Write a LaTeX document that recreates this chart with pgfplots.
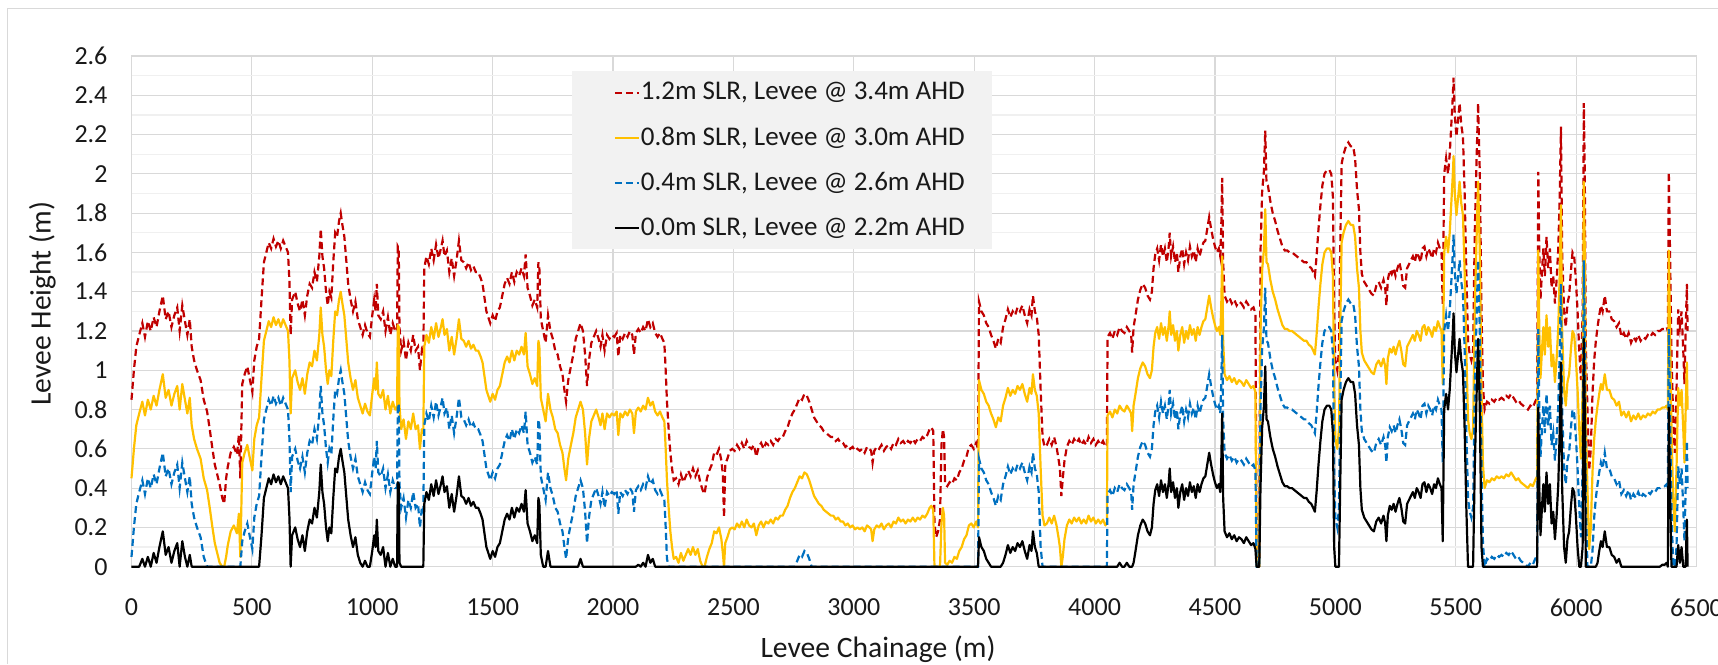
\documentclass[border=0pt]{standalone}
\usepackage{fontspec}
\setmainfont{Carlito}
\usepackage{pgfplots}
\usepackage{pgfplotstable}
\pgfplotsset{compat=1.18}

\definecolor{cRed}{HTML}{C00000}
\definecolor{cYel}{HTML}{FFC000}
\definecolor{cBlu}{HTML}{0070C0}
\definecolor{cGrid}{HTML}{D9D9D9}
\definecolor{cMinor}{HTML}{F0F0F0}
\definecolor{cLeg}{HTML}{F2F2F2}

% x = chainage (m); r, y, b, k = levee height for 1.2, 0.8, 0.4, 0.0 m SLR
\pgfplotstableread{
x r y b k
0 0.85 0.45 0.05 0
10 1.00 0.60 0.20 0
20 1.12 0.72 0.32 0
32 1.18 0.78 0.38 0
45 1.24 0.84 0.44 0.04
56 1.17 0.77 0.37 0
68 1.25 0.85 0.45 0.05
80 1.20 0.80 0.40 0
92 1.27 0.87 0.47 0.07
104 1.22 0.82 0.42 0.02
116 1.30 0.90 0.50 0.10
130 1.38 0.98 0.58 0.18
142 1.26 0.86 0.46 0.06
154 1.30 0.90 0.50 0.10
166 1.22 0.82 0.42 0.02
178 1.28 0.88 0.48 0.08
190 1.32 0.92 0.52 0.12
200 1.20 0.80 0.40 0
211 1.33 0.93 0.53 0.13
222 1.25 0.85 0.45 0.05
232 1.18 0.78 0.38 0
242 1.26 0.86 0.46 0.06
250 1.12 0.72 0.32 0
260 1.05 0.65 0.25 0
272 1.00 0.60 0.20 0
287 0.95 0.55 0.15 0
300 0.85 0.45 0.05 0
314 0.79 0.39 0 0
325 0.70 0.30 0 0
335 0.61 0.21 0 0
346 0.52 0.12 0 0
356 0.47 0.07 0 0
366 0.42 0.02 0 0
377 0.35 0 0 0
385 0.32 0 0 0
393 0.45 0.05 0 0
400 0.51 0.11 0 0
412 0.58 0.18 0 0
425 0.61 0.21 0 0
438 0.57 0.17 0 0
446 0.67 0.27 0 0
452 0.45 0.05 0 0
460 0.93 0.53 0.13 0
470 0.98 0.58 0.18 0
481 1.02 0.62 0.22 0
492 0.95 0.55 0.15 0
502 0.89 0.49 0.09 0
510 1.05 0.65 0.25 0
520 1.12 0.72 0.32 0
530 1.16 0.76 0.36 0
540 1.36 0.96 0.56 0.16
550 1.55 1.15 0.75 0.35
560 1.60 1.20 0.80 0.40
570 1.65 1.25 0.85 0.45
580 1.62 1.22 0.82 0.42
590 1.67 1.27 0.87 0.47
600 1.63 1.23 0.83 0.43
610 1.66 1.26 0.86 0.46
620 1.62 1.22 0.82 0.42
630 1.66 1.26 0.86 0.46
640 1.63 1.23 0.83 0.43
650 1.60 1.20 0.80 0.40
656 1.45 1.05 0.65 0.25
661 1.18 0.78 0.38 0
667 1.36 0.96 0.56 0.16
680 1.40 1.00 0.60 0.20
690 1.34 0.94 0.54 0.14
700 1.30 0.90 0.50 0.10
710 1.36 0.96 0.56 0.16
720 1.28 0.88 0.48 0.08
730 1.38 0.98 0.58 0.18
740 1.44 1.04 0.64 0.24
750 1.42 1.02 0.62 0.22
760 1.50 1.10 0.70 0.30
770 1.45 1.05 0.65 0.25
780 1.58 1.18 0.78 0.38
786 1.72 1.32 0.92 0.52
793 1.58 1.18 0.78 0.38
800 1.52 1.12 0.72 0.32
808 1.40 1.00 0.60 0.20
815 1.33 0.93 0.53 0.13
822 1.40 1.00 0.60 0.20
830 1.37 0.97 0.57 0.17
838 1.55 1.15 0.75 0.35
846 1.70 1.30 0.90 0.50
854 1.68 1.28 0.88 0.48
862 1.76 1.36 0.96 0.56
869 1.80 1.40 1.00 0.60
876 1.74 1.34 0.94 0.54
884 1.68 1.28 0.88 0.48
892 1.56 1.16 0.76 0.36
900 1.44 1.04 0.64 0.24
910 1.36 0.96 0.56 0.16
920 1.30 0.90 0.50 0.10
930 1.35 0.95 0.55 0.15
940 1.26 0.86 0.46 0.06
950 1.22 0.82 0.42 0.02
960 1.18 0.78 0.38 0
970 1.23 0.83 0.43 0.03
980 1.19 0.79 0.39 0
990 1.17 0.77 0.37 0
1000 1.28 0.88 0.48 0.08
1008 1.36 0.96 0.56 0.16
1014 1.30 0.90 0.50 0.10
1019 1.44 1.04 0.64 0.24
1025 1.28 0.88 0.48 0.08
1035 1.26 0.86 0.46 0.06
1045 1.30 0.90 0.50 0.10
1055 1.20 0.80 0.40 0
1065 1.27 0.87 0.47 0.07
1075 1.18 0.78 0.38 0
1085 1.24 0.84 0.44 0.04
1095 1.20 0.80 0.40 0
1103 1.20 0.80 0.40 0
1106 1.63 1.23 0.83 0.43
1110 1.62 1.22 0.82 0.42
1113 1.22 0.82 0.42 0.02
1120 1.10 0.70 0.30 0
1130 1.15 0.75 0.35 0
1140 1.05 0.65 0.25 0
1150 1.14 0.74 0.34 0
1160 1.10 0.70 0.30 0
1170 1.18 0.78 0.38 0
1180 1.10 0.70 0.30 0
1190 1.12 0.72 0.32 0
1198 1.00 0.60 0.20 0
1206 1.10 0.70 0.30 0
1212 1.08 0.68 0.28 0
1216 1.52 1.12 0.72 0.32
1225 1.58 1.18 0.78 0.38
1235 1.54 1.14 0.74 0.34
1245 1.62 1.22 0.82 0.42
1255 1.56 1.16 0.76 0.36
1265 1.64 1.24 0.84 0.44
1275 1.57 1.17 0.77 0.37
1285 1.62 1.22 0.82 0.42
1292 1.66 1.26 0.86 0.46
1300 1.58 1.18 0.78 0.38
1310 1.61 1.21 0.81 0.41
1320 1.50 1.10 0.70 0.30
1330 1.57 1.17 0.77 0.37
1340 1.48 1.08 0.68 0.28
1350 1.56 1.16 0.76 0.36
1360 1.66 1.26 0.86 0.46
1370 1.56 1.16 0.76 0.36
1380 1.55 1.15 0.75 0.35
1390 1.52 1.12 0.72 0.32
1400 1.55 1.15 0.75 0.35
1410 1.51 1.11 0.71 0.31
1420 1.53 1.13 0.73 0.33
1430 1.50 1.10 0.70 0.30
1440 1.50 1.10 0.70 0.30
1450 1.47 1.07 0.67 0.27
1458 1.44 1.04 0.64 0.24
1466 1.37 0.97 0.57 0.17
1474 1.30 0.90 0.50 0.10
1482 1.27 0.87 0.47 0.07
1490 1.24 0.84 0.44 0.04
1500 1.28 0.88 0.48 0.08
1510 1.25 0.85 0.45 0.05
1520 1.30 0.90 0.50 0.10
1530 1.32 0.92 0.52 0.12
1540 1.38 0.98 0.58 0.18
1550 1.44 1.04 0.64 0.24
1560 1.47 1.07 0.67 0.27
1570 1.44 1.04 0.64 0.24
1580 1.50 1.10 0.70 0.30
1590 1.45 1.05 0.65 0.25
1600 1.50 1.10 0.70 0.30
1610 1.48 1.08 0.68 0.28
1620 1.52 1.12 0.72 0.32
1630 1.48 1.08 0.68 0.28
1637 1.59 1.19 0.79 0.39
1645 1.42 1.02 0.62 0.22
1655 1.38 0.98 0.58 0.18
1665 1.33 0.93 0.53 0.13
1675 1.36 0.96 0.56 0.16
1685 1.32 0.92 0.52 0.12
1690 1.55 1.15 0.75 0.35
1694 1.52 1.12 0.72 0.32
1700 1.26 0.86 0.46 0.06
1710 1.20 0.80 0.40 0
1720 1.14 0.74 0.34 0
1730 1.28 0.88 0.48 0.08
1740 1.20 0.80 0.40 0
1750 1.16 0.76 0.36 0
1760 1.10 0.70 0.30 0
1770 1.08 0.68 0.28 0
1780 1.02 0.62 0.22 0
1790 0.98 0.58 0.18 0
1798 0.90 0.50 0.10 0
1805 0.84 0.44 0.04 0
1814 0.95 0.55 0.15 0
1825 1.02 0.62 0.22 0
1835 1.08 0.68 0.28 0
1845 1.16 0.76 0.36 0
1855 1.20 0.80 0.40 0
1865 1.24 0.84 0.44 0.04
1875 1.20 0.80 0.40 0
1884 1.08 0.68 0.28 0
1892 0.92 0.52 0.12 0
1900 1.05 0.65 0.25 0
1910 1.14 0.74 0.34 0
1920 1.17 0.77 0.37 0
1930 1.20 0.80 0.40 0
1940 1.16 0.76 0.36 0
1948 1.12 0.72 0.32 0
1956 1.18 0.78 0.38 0
1965 1.10 0.70 0.30 0
1975 1.18 0.78 0.38 0
1985 1.16 0.76 0.36 0
1995 1.18 0.78 0.38 0
2005 1.17 0.77 0.37 0
2015 1.19 0.79 0.39 0
2022 1.07 0.67 0.27 0
2030 1.18 0.78 0.38 0
2040 1.16 0.76 0.36 0
2050 1.19 0.79 0.39 0
2060 1.17 0.77 0.37 0
2070 1.20 0.80 0.40 0
2080 1.18 0.78 0.38 0
2087 1.08 0.68 0.28 0
2095 1.19 0.79 0.39 0
2105 1.21 0.81 0.41 0.01
2115 1.19 0.79 0.39 0
2125 1.22 0.82 0.42 0.02
2135 1.20 0.80 0.40 0
2145 1.26 0.86 0.46 0.06
2155 1.22 0.82 0.42 0.02
2165 1.24 0.84 0.44 0.04
2175 1.19 0.79 0.39 0
2185 1.17 0.77 0.37 0
2195 1.19 0.79 0.39 0
2205 1.16 0.76 0.36 0
2213 1.14 0.74 0.34 0
2218 1.02 0.62 0.22 0
2224 0.84 0.44 0.04 0
2231 0.70 0.30 0 0
2238 0.58 0.18 0 0
2245 0.50 0.10 0 0
2252 0.44 0.04 0 0
2262 0.45 0.05 0 0
2272 0.42 0.02 0 0
2282 0.47 0.07 0 0
2292 0.43 0.03 0 0
2302 0.46 0.06 0 0
2312 0.49 0.09 0 0
2322 0.46 0.06 0 0
2332 0.50 0.10 0 0
2342 0.46 0.06 0 0
2352 0.49 0.09 0 0
2362 0.43 0.03 0 0
2372 0.39 0 0 0
2380 0.37 0 0 0
2390 0.45 0.05 0 0
2400 0.49 0.09 0 0
2410 0.52 0.12 0 0
2420 0.58 0.18 0 0
2430 0.57 0.17 0 0
2440 0.60 0.20 0 0
2450 0.54 0.14 0 0
2456 0.47 0.07 0 0
2461 0.25 0 0 0
2466 0.52 0.12 0 0
2475 0.55 0.15 0 0
2485 0.59 0.19 0 0
2495 0.60 0.20 0 0
2505 0.59 0.19 0 0
2515 0.62 0.22 0 0
2525 0.60 0.20 0 0
2535 0.63 0.23 0 0
2545 0.60 0.20 0 0
2555 0.64 0.24 0 0
2565 0.61 0.21 0 0
2575 0.60 0.20 0 0
2585 0.62 0.22 0 0
2595 0.56 0.16 0 0
2605 0.61 0.21 0 0
2615 0.63 0.23 0 0
2625 0.60 0.20 0 0
2635 0.63 0.23 0 0
2645 0.62 0.22 0 0
2655 0.64 0.24 0 0
2665 0.62 0.22 0 0
2675 0.65 0.25 0 0
2685 0.64 0.24 0 0
2695 0.66 0.26 0 0
2705 0.66 0.26 0 0
2715 0.69 0.29 0 0
2725 0.71 0.31 0 0
2735 0.75 0.35 0 0
2745 0.78 0.38 0 0
2755 0.80 0.40 0 0
2765 0.83 0.43 0.03 0
2775 0.86 0.46 0.06 0
2785 0.85 0.45 0.05 0
2795 0.88 0.48 0.08 0
2805 0.87 0.47 0.07 0
2815 0.84 0.44 0.04 0
2825 0.80 0.40 0 0
2835 0.76 0.36 0 0
2845 0.74 0.34 0 0
2855 0.72 0.32 0 0
2865 0.71 0.31 0 0
2875 0.69 0.29 0 0
2885 0.68 0.28 0 0
2895 0.67 0.27 0 0
2905 0.66 0.26 0 0
2915 0.66 0.26 0 0
2925 0.64 0.24 0 0
2935 0.65 0.25 0 0
2945 0.63 0.23 0 0
2955 0.63 0.23 0 0
2965 0.61 0.21 0 0
2975 0.62 0.22 0 0
2985 0.60 0.20 0 0
2995 0.61 0.21 0 0
3005 0.59 0.19 0 0
3015 0.60 0.20 0 0
3025 0.59 0.19 0 0
3035 0.60 0.20 0 0
3045 0.58 0.18 0 0
3055 0.61 0.21 0 0
3065 0.60 0.20 0 0
3072 0.59 0.19 0 0
3078 0.53 0.13 0 0
3085 0.59 0.19 0 0
3095 0.61 0.21 0 0
3105 0.60 0.20 0 0
3115 0.62 0.22 0 0
3125 0.59 0.19 0 0
3135 0.61 0.21 0 0
3145 0.62 0.22 0 0
3155 0.60 0.20 0 0
3165 0.63 0.23 0 0
3175 0.62 0.22 0 0
3185 0.65 0.25 0 0
3195 0.63 0.23 0 0
3205 0.64 0.24 0 0
3215 0.62 0.22 0 0
3225 0.64 0.24 0 0
3235 0.63 0.23 0 0
3245 0.65 0.25 0 0
3255 0.63 0.23 0 0
3265 0.65 0.25 0 0
3275 0.64 0.24 0 0
3285 0.66 0.26 0 0
3295 0.65 0.25 0 0
3305 0.67 0.27 0 0
3315 0.70 0.30 0 0
3322 0.71 0.31 0 0
3330 0.69 0.29 0 0
3335 0.22 0 0 0
3342 0.15 0 0 0
3350 0.18 0 0 0
3358 0.24 0 0 0
3364 0.62 0.22 0 0
3370 0.70 0.30 0 0
3375 0.66 0.26 0 0
3379 0.42 0.02 0 0
3388 0.41 0.01 0 0
3398 0.43 0.03 0 0
3408 0.42 0.02 0 0
3418 0.45 0.05 0 0
3428 0.44 0.04 0 0
3438 0.48 0.08 0 0
3448 0.50 0.10 0 0
3458 0.54 0.14 0 0
3468 0.56 0.16 0 0
3478 0.61 0.21 0 0
3488 0.62 0.22 0 0
3498 0.60 0.20 0 0
3508 0.63 0.23 0 0
3516 0.60 0.20 0 0
3520 1.35 0.95 0.55 0.15
3530 1.30 0.90 0.50 0.10
3540 1.28 0.88 0.48 0.08
3550 1.24 0.84 0.44 0.04
3560 1.22 0.82 0.42 0.02
3570 1.18 0.78 0.38 0
3580 1.15 0.75 0.35 0
3590 1.11 0.71 0.31 0
3600 1.16 0.76 0.36 0
3610 1.14 0.74 0.34 0
3620 1.22 0.82 0.42 0.02
3630 1.26 0.86 0.46 0.06
3640 1.31 0.91 0.51 0.11
3650 1.27 0.87 0.47 0.07
3660 1.30 0.90 0.50 0.10
3670 1.28 0.88 0.48 0.08
3680 1.32 0.92 0.52 0.12
3690 1.30 0.90 0.50 0.10
3700 1.33 0.93 0.53 0.13
3710 1.28 0.88 0.48 0.08
3720 1.24 0.84 0.44 0.04
3730 1.31 0.91 0.51 0.11
3738 1.28 0.88 0.48 0.08
3744 1.38 0.98 0.58 0.18
3752 1.30 0.90 0.50 0.10
3760 1.27 0.87 0.47 0.07
3768 1.18 0.78 0.38 0
3776 0.90 0.50 0.10 0
3784 0.66 0.26 0 0
3792 0.61 0.21 0 0
3802 0.62 0.22 0 0
3812 0.65 0.25 0 0
3822 0.62 0.22 0 0
3832 0.66 0.26 0 0
3842 0.61 0.21 0 0
3850 0.55 0.15 0 0
3856 0.50 0.10 0 0
3862 0.36 0 0 0
3868 0.45 0.05 0 0
3875 0.54 0.14 0 0
3885 0.61 0.21 0 0
3895 0.64 0.24 0 0
3905 0.62 0.22 0 0
3915 0.65 0.25 0 0
3925 0.63 0.23 0 0
3935 0.65 0.25 0 0
3945 0.62 0.22 0 0
3955 0.64 0.24 0 0
3965 0.62 0.22 0 0
3975 0.66 0.26 0 0
3985 0.63 0.23 0 0
3995 0.65 0.25 0 0
4005 0.62 0.22 0 0
4015 0.64 0.24 0 0
4025 0.62 0.22 0 0
4035 0.64 0.24 0 0
4045 0.61 0.21 0 0
4051 0.62 0.22 0 0
4054 1.17 0.77 0.37 0
4064 1.19 0.79 0.39 0
4074 1.16 0.76 0.36 0
4084 1.20 0.80 0.40 0
4094 1.18 0.78 0.38 0
4104 1.22 0.82 0.42 0.02
4114 1.20 0.80 0.40 0
4124 1.19 0.79 0.39 0
4134 1.22 0.82 0.42 0.02
4144 1.20 0.80 0.40 0
4152 1.18 0.78 0.38 0
4156 1.09 0.69 0.29 0
4162 1.22 0.82 0.42 0.02
4170 1.28 0.88 0.48 0.08
4180 1.36 0.96 0.56 0.16
4190 1.41 1.01 0.61 0.21
4200 1.44 1.04 0.64 0.24
4210 1.42 1.02 0.62 0.22
4220 1.38 0.98 0.58 0.18
4230 1.36 0.96 0.56 0.16
4238 1.40 1.00 0.60 0.20
4245 1.52 1.12 0.72 0.32
4252 1.59 1.19 0.79 0.39
4260 1.62 1.22 0.82 0.42
4268 1.56 1.16 0.76 0.36
4276 1.64 1.24 0.84 0.44
4284 1.58 1.18 0.78 0.38
4292 1.62 1.22 0.82 0.42
4300 1.55 1.15 0.75 0.35
4308 1.63 1.23 0.83 0.43
4312 1.70 1.30 0.90 0.50
4318 1.58 1.18 0.78 0.38
4326 1.63 1.23 0.83 0.43
4334 1.55 1.15 0.75 0.35
4342 1.60 1.20 0.80 0.40
4348 1.50 1.10 0.70 0.30
4356 1.58 1.18 0.78 0.38
4364 1.62 1.22 0.82 0.42
4372 1.54 1.14 0.74 0.34
4380 1.60 1.20 0.80 0.40
4388 1.56 1.16 0.76 0.36
4396 1.63 1.23 0.83 0.43
4404 1.58 1.18 0.78 0.38
4412 1.61 1.21 0.81 0.41
4420 1.55 1.15 0.75 0.35
4428 1.62 1.22 0.82 0.42
4436 1.58 1.18 0.78 0.38
4444 1.62 1.22 0.82 0.42
4452 1.65 1.25 0.85 0.45
4460 1.66 1.26 0.86 0.46
4468 1.72 1.32 0.92 0.52
4476 1.78 1.38 0.98 0.58
4484 1.72 1.32 0.92 0.52
4492 1.67 1.27 0.87 0.47
4500 1.63 1.23 0.83 0.43
4508 1.60 1.20 0.80 0.40
4516 1.62 1.22 0.82 0.42
4522 1.58 1.18 0.78 0.38
4526 1.72 1.32 0.92 0.52
4530 1.98 1.58 1.18 0.78
4534 1.55 1.15 0.75 0.35
4540 1.38 0.98 0.58 0.18
4550 1.35 0.95 0.55 0.15
4560 1.37 0.97 0.57 0.17
4570 1.34 0.94 0.54 0.14
4580 1.36 0.96 0.56 0.16
4590 1.33 0.93 0.53 0.13
4600 1.35 0.95 0.55 0.15
4610 1.34 0.94 0.54 0.14
4620 1.32 0.92 0.52 0.12
4630 1.35 0.95 0.55 0.15
4640 1.33 0.93 0.53 0.13
4650 1.31 0.91 0.51 0.11
4660 1.32 0.92 0.52 0.12
4668 1.29 0.89 0.49 0.09
4673 0.05 0 0 0
4684 0.05 0 0 0
4689 1.60 1.20 0.80 0.40
4696 1.91 1.51 1.11 0.71
4703 2.01 1.61 1.21 0.81
4709 2.22 1.82 1.42 1.02
4714 1.95 1.55 1.15 0.75
4720 1.94 1.54 1.14 0.74
4730 1.86 1.46 1.06 0.66
4740 1.80 1.40 1.00 0.60
4750 1.76 1.36 0.96 0.56
4760 1.71 1.31 0.91 0.51
4770 1.67 1.27 0.87 0.47
4780 1.63 1.23 0.83 0.43
4790 1.61 1.21 0.81 0.41
4800 1.61 1.21 0.81 0.41
4810 1.60 1.20 0.80 0.40
4820 1.60 1.20 0.80 0.40
4830 1.59 1.19 0.79 0.39
4840 1.58 1.18 0.78 0.38
4850 1.57 1.17 0.77 0.37
4860 1.56 1.16 0.76 0.36
4870 1.55 1.15 0.75 0.35
4880 1.55 1.15 0.75 0.35
4890 1.53 1.13 0.73 0.33
4900 1.52 1.12 0.72 0.32
4908 1.50 1.10 0.70 0.30
4915 1.48 1.08 0.68 0.28
4922 1.58 1.18 0.78 0.38
4930 1.72 1.32 0.92 0.52
4938 1.84 1.44 1.04 0.64
4946 1.94 1.54 1.14 0.74
4955 2.00 1.60 1.20 0.80
4965 2.02 1.62 1.22 0.82
4975 2.02 1.62 1.22 0.82
4983 2.00 1.60 1.20 0.80
4990 1.88 1.48 1.08 0.68
4995 1.30 0.90 0.50 0.10
5000 1.05 0.65 0.25 0
5008 1.00 0.60 0.20 0
5015 1.10 0.70 0.30 0
5020 1.60 1.20 0.80 0.40
5026 2.05 1.65 1.25 0.85
5034 2.10 1.70 1.30 0.90
5044 2.14 1.74 1.34 0.94
5054 2.16 1.76 1.36 0.96
5064 2.14 1.74 1.34 0.94
5074 2.14 1.74 1.34 0.94
5082 2.08 1.68 1.28 0.88
5090 1.92 1.52 1.12 0.72
5098 1.82 1.42 1.02 0.62
5104 1.60 1.20 0.80 0.40
5110 1.49 1.09 0.69 0.29
5120 1.45 1.05 0.65 0.25
5130 1.43 1.03 0.63 0.23
5140 1.41 1.01 0.61 0.21
5150 1.39 0.99 0.59 0.19
5160 1.38 0.98 0.58 0.18
5170 1.43 1.03 0.63 0.23
5180 1.45 1.05 0.65 0.25
5190 1.42 1.02 0.62 0.22
5200 1.46 1.06 0.66 0.26
5207 1.42 1.02 0.62 0.22
5212 1.33 0.93 0.53 0.13
5218 1.46 1.06 0.66 0.26
5226 1.51 1.11 0.71 0.31
5234 1.49 1.09 0.69 0.29
5242 1.52 1.12 0.72 0.32
5250 1.48 1.08 0.68 0.28
5258 1.52 1.12 0.72 0.32
5266 1.55 1.15 0.75 0.35
5274 1.50 1.10 0.70 0.30
5282 1.43 1.03 0.63 0.23
5290 1.42 1.02 0.62 0.22
5298 1.52 1.12 0.72 0.32
5306 1.54 1.14 0.74 0.34
5314 1.56 1.16 0.76 0.36
5322 1.58 1.18 0.78 0.38
5330 1.55 1.15 0.75 0.35
5338 1.60 1.20 0.80 0.40
5346 1.58 1.18 0.78 0.38
5354 1.55 1.15 0.75 0.35
5362 1.62 1.22 0.82 0.42
5370 1.63 1.23 0.83 0.43
5378 1.58 1.18 0.78 0.38
5386 1.62 1.22 0.82 0.42
5394 1.60 1.20 0.80 0.40
5402 1.57 1.17 0.77 0.37
5410 1.62 1.22 0.82 0.42
5418 1.60 1.20 0.80 0.40
5426 1.65 1.25 0.85 0.45
5434 1.62 1.22 0.82 0.42
5441 1.60 1.20 0.80 0.40
5446 1.33 0.93 0.53 0.13
5452 2.00 1.60 1.20 0.80
5460 2.08 1.68 1.28 0.88
5468 2.00 1.60 1.20 0.80
5475 2.10 1.70 1.30 0.90
5482 2.26 1.86 1.46 1.06
5488 2.40 2.00 1.60 1.20
5491 2.49 2.09 1.69 1.29
5496 2.30 1.90 1.50 1.10
5503 2.19 1.79 1.39 0.99
5510 2.28 1.88 1.48 1.08
5516 2.36 1.96 1.56 1.16
5523 2.25 1.85 1.45 1.05
5530 2.19 1.79 1.39 0.99
5537 1.90 1.50 1.10 0.70
5544 1.50 1.10 0.70 0.30
5551 1.15 0.75 0.35 0
5558 1.08 0.68 0.28 0
5565 1.05 0.65 0.25 0
5572 1.10 0.70 0.30 0
5579 1.70 1.30 0.90 0.50
5586 2.05 1.65 1.25 0.85
5593 2.36 1.96 1.56 1.16
5600 2.00 1.60 1.20 0.80
5607 1.30 0.90 0.50 0.10
5613 0.92 0.52 0.12 0
5620 0.80 0.40 0 0
5630 0.84 0.44 0.04 0
5640 0.83 0.43 0.03 0
5650 0.85 0.45 0.05 0
5660 0.84 0.44 0.04 0
5670 0.86 0.46 0.06 0
5680 0.85 0.45 0.05 0
5690 0.86 0.46 0.06 0
5700 0.85 0.45 0.05 0
5710 0.87 0.47 0.07 0
5720 0.86 0.46 0.06 0
5730 0.88 0.48 0.08 0
5740 0.86 0.46 0.06 0
5750 0.84 0.44 0.04 0
5760 0.85 0.45 0.05 0
5770 0.83 0.43 0.03 0
5780 0.82 0.42 0.02 0
5790 0.81 0.41 0.01 0
5800 0.80 0.40 0 0
5810 0.82 0.42 0.02 0
5820 0.81 0.41 0.01 0
5830 0.84 0.44 0.04 0
5838 0.86 0.46 0.06 0
5843 2.01 1.61 1.21 0.81
5847 1.60 1.20 0.80 0.40
5852 1.36 0.96 0.56 0.16
5858 1.50 1.10 0.70 0.30
5864 1.62 1.22 0.82 0.42
5870 1.48 1.08 0.68 0.28
5877 1.68 1.28 0.88 0.48
5884 1.52 1.12 0.72 0.32
5891 1.62 1.22 0.82 0.42
5898 1.42 1.02 0.62 0.22
5905 1.48 1.08 0.68 0.28
5912 1.34 0.94 0.54 0.14
5919 1.46 1.06 0.66 0.26
5926 1.62 1.22 0.82 0.42
5932 1.90 1.50 1.10 0.70
5937 2.24 1.84 1.44 1.04
5942 1.60 1.20 0.80 0.40
5950 1.30 0.90 0.50 0.10
5957 1.22 0.82 0.42 0.02
5964 1.34 0.94 0.54 0.14
5971 1.38 0.98 0.58 0.18
5978 1.50 1.10 0.70 0.30
5985 1.60 1.20 0.80 0.40
5992 1.58 1.18 0.78 0.38
5999 1.46 1.06 0.66 0.26
6006 1.30 0.90 0.50 0.10
6013 1.10 0.70 0.30 0
6020 0.95 0.55 0.15 0
6027 1.30 0.90 0.50 0.10
6032 2.36 1.96 1.56 1.16
6036 2.00 1.60 1.20 0.80
6040 1.15 0.75 0.35 0
6047 0.80 0.40 0 0
6054 0.49 0.09 0 0
6061 0.60 0.20 0 0
6068 0.88 0.48 0.08 0
6075 1.05 0.65 0.25 0
6082 1.15 0.75 0.35 0
6089 1.22 0.82 0.42 0.02
6096 1.28 0.88 0.48 0.08
6103 1.33 0.93 0.53 0.13
6110 1.30 0.90 0.50 0.10
6119 1.38 0.98 0.58 0.18
6128 1.30 0.90 0.50 0.10
6138 1.30 0.90 0.50 0.10
6148 1.26 0.86 0.46 0.06
6158 1.25 0.85 0.45 0.05
6168 1.22 0.82 0.42 0.02
6178 1.24 0.84 0.44 0.04
6188 1.17 0.77 0.37 0
6198 1.19 0.79 0.39 0
6208 1.16 0.76 0.36 0
6218 1.19 0.79 0.39 0
6228 1.14 0.74 0.34 0
6238 1.17 0.77 0.37 0
6248 1.15 0.75 0.35 0
6258 1.18 0.78 0.38 0
6268 1.15 0.75 0.35 0
6278 1.17 0.77 0.37 0
6288 1.16 0.76 0.36 0
6298 1.18 0.78 0.38 0
6308 1.17 0.77 0.37 0
6318 1.19 0.79 0.39 0
6328 1.18 0.78 0.38 0
6338 1.20 0.80 0.40 0
6348 1.20 0.80 0.40 0
6358 1.21 0.81 0.41 0.01
6368 1.21 0.81 0.41 0.01
6376 1.22 0.82 0.42 0.02
6381 1.20 0.80 0.40 0
6385 2.01 1.61 1.21 0.81
6390 1.60 1.20 0.80 0.40
6396 1.10 0.70 0.30 0
6403 0.75 0.35 0 0
6410 0.58 0.18 0 0
6417 0.90 0.50 0.10 0
6424 1.31 0.91 0.51 0.11
6431 1.22 0.82 0.42 0.02
6438 1.30 0.90 0.50 0.10
6445 1.10 0.70 0.30 0
6450 0.93 0.53 0.13 0
6455 1.20 0.80 0.40 0
6460 1.44 1.04 0.64 0.24
6463 1.20 0.80 0.40 0
}\levee

\begin{document}
\begin{tikzpicture}
\begin{axis}[
  at={(0,0)}, anchor=south west,
  scale only axis, width=782.5pt, height=255.35pt,
  xmin=0, xmax=6500, ymin=0, ymax=2.6,
  xtick={0,500,...,6500},
  ytick={0,0.2,0.4,0.6,0.8,1,1.2,1.4,1.6,1.8,2,2.2,2.4,2.6},
  minor y tick num=1,
  grid=both,
  major grid style={cGrid, line width=0.6pt},
  minor grid style={cMinor, line width=0.6pt},
  axis line style={cGrid, line width=0.6pt},
  tick style={draw=none},
  clip=false,
  scaled x ticks=false,
  /pgf/number format/1000 sep={},
  /pgf/number format/assume math mode=true,
  ticklabel style={font=\fontsize{13}{15}\selectfont, text=black!90},
  xticklabel style={yshift=-12.4pt},
  yticklabel style={xshift=-8.5pt},
  xlabel={Levee Chainage (m)},
  ylabel={Levee Height (m)},
  xlabel style={at={(axis description cs:0.477,-0.1773)}, anchor=base,
    font=\fontsize{14.8}{17}\selectfont, text=black!90},
  ylabel style={at={(axis description cs:-0.0569,0.515)}, anchor=center,
    font=\fontsize{14.8}{17}\selectfont, text=black!90},
  legend cell align=left,
  legend image code/.code={\path (0pt,0pt); \draw[#1] (8pt,0pt) -- (20pt,0pt);},
  legend style={at={(0.281,0.9706)}, anchor=north west, fill=cLeg, draw=none,
    font=\fontsize{13.5}{16}\selectfont, text=black!90,
    nodes={inner xsep=0.5pt},
    inner xsep=13pt, inner ysep=3.5pt, row sep=8pt},
]
\addplot[cRed, line width=1.1pt, dash pattern=on 3.5pt off 2pt] table[x=x, y=r] {\levee};
\addlegendentry{1.2m SLR, Levee @ 3.4m AHD}
\addplot[cYel, line width=1.1pt, line join=round] table[x=x, y=y] {\levee};
\addlegendentry{0.8m SLR, Levee @ 3.0m AHD}
\addplot[cBlu, line width=1.1pt, dash pattern=on 3.5pt off 2pt] table[x=x, y=b] {\levee};
\addlegendentry{0.4m SLR, Levee @ 2.6m AHD}
\addplot[black, line width=1.1pt, line join=round] table[x=x, y=k] {\levee};
\addlegendentry{0.0m SLR, Levee @ 2.2m AHD}
\end{axis}
\pgfresetboundingbox
\useasboundingbox (-65.75pt,-48.65pt) rectangle (793.25pt,283.35pt);
\draw[cGrid, line width=0.6pt] (-62.1pt,-48.65pt) -- (-62.1pt,279.1pt) -- (793.25pt,279.1pt);
\end{tikzpicture}
\end{document}
